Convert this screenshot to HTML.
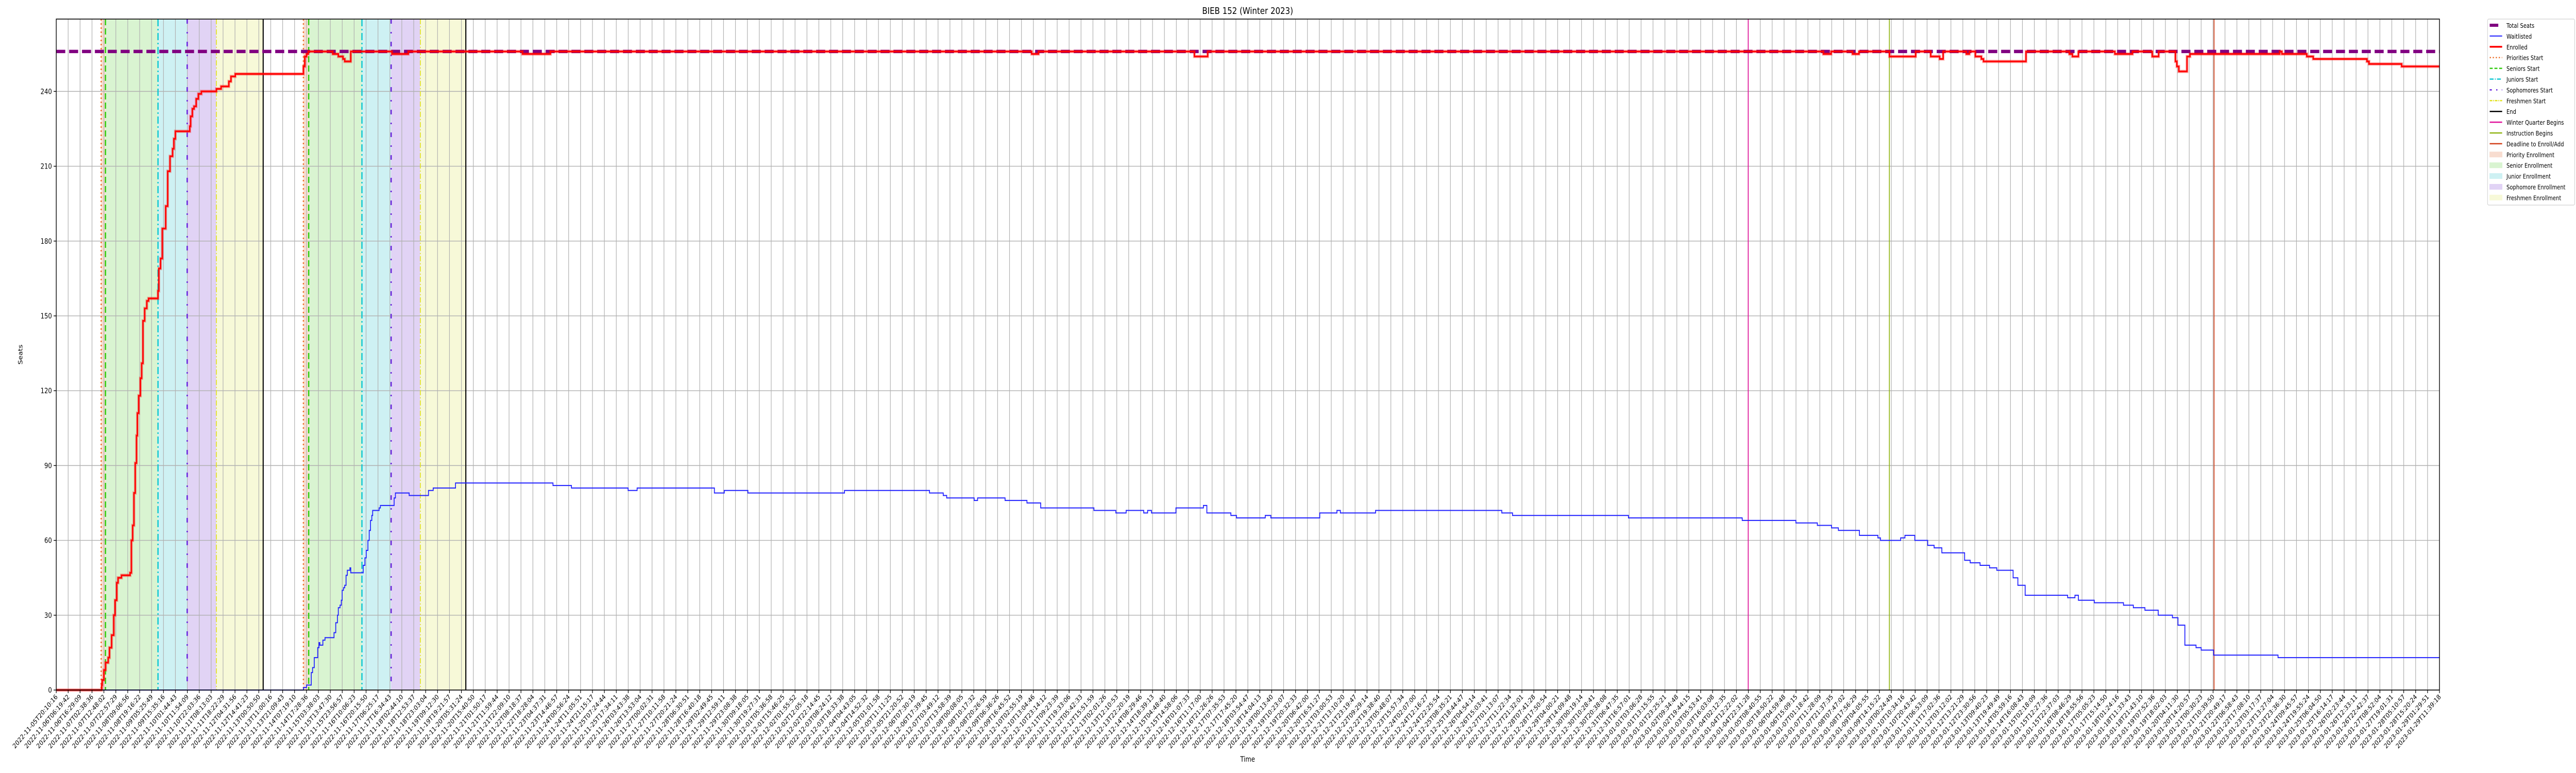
<!DOCTYPE html>
<html><head><meta charset="utf-8"><title>BIEB 152 (Winter 2023)</title>
<style>
html,body{margin:0;padding:0;background:#fff;overflow:hidden;width:100%;height:100%;}
svg{display:block;width:100vw;height:100vh;font-family:"DejaVu Sans","Liberation Sans",sans-serif;}
</style></head>
<body>
<svg id="chart" viewBox="0 0 6000 1500" preserveAspectRatio="none" xmlns="http://www.w3.org/2000/svg">
<rect x="0" y="0" width="6000" height="1500" fill="#fff"/>
<g id="shades"></g>
<g id="grid"></g>
<g id="events"></g>
<g id="series"></g>
<g id="axes"></g>
<text x="2906" y="27" font-size="18" text-anchor="middle">BIEB 152 (Winter 2023)</text>
<text x="2906" y="1478" font-size="14" text-anchor="middle">Time</text>
<text x="0" y="0" font-size="14" text-anchor="middle" transform="translate(52,688) rotate(-90)">Seats</text>
<g id="legend"></g>
</svg>
<script>
// ---- data (hours along the time axis) ----
const totalSeats = 256;
const enrolledT = [0,39.25,39.62,41.10,42.58,44.80,45.92,47.77,49.62,50.73,52.21,53.32,56.28,63.69,64.80,65.91,67.02,68.13,69.24,69.99,71.10,72.58,73.69,74.80,76.28,78.13,79.61,87.76,88.50,89.98,91.46,94.42,96.13,98.13,100.35,101.46,102.76,115.16,115.90,117.38,118.86,120.71,122.57,125.16,138.12,142.19,148.86,150.71,154.41,213.18,214.40,215.88,217.36,238.47,243.28,247.35,248.83,254.02,289.57,303.64,402.13,426.20,841.30,847.22,981.64,993.12,1524.11,1530.78,1549.29,1554.85,1581.14,1603.73,1616.69,1624.46,1627.42,1647.42,1650.01,1655.20,1660.38,1662.23,1698.89,1736.29,1738.88,1744.07,1775.54,1790.72,1807.76,1813.31,1827.76,1829.00,1830.71,1837.75,1840.34,1917.73,1919.58,1941.06,1946.61,1992.90,1994.75,2022.89,2055.5];
const enrolledV = [0,2,4,8,11,13,17,22,30,36,43,45,46,47,60,66,79,91,102,111,118,125,131,148,153,156,157,160,169,173,185,194,208,214,217,221,224,226,230,233,234,237,239,240,241,242,244,246,247,250,254,255,256,255,254,253,252,256,255,256,255,256,255,256,254,256,255,256,255,256,254,256,254,253,256,255,256,254,253,252,256,255,254,256,255,256,254,256,252,250,248,254,255,256,255,254,253,252,251,250,250];
const waitT = [0,213.29,215.88,219.95,221.06,222.54,225.51,226.62,227.36,229.95,231.80,239.58,241.06,242.54,243.28,244.76,245.87,246.61,247.72,248.83,249.95,251.06,253.28,254.02,264.76,266.24,267.35,268.83,269.94,271.05,272.16,272.90,278.46,279.57,291.42,292.53,304.38,321.04,325.11,344.37,428.43,444.35,493.23,501.00,567.65,576.17,596.54,679.85,753.17,765.02,767.98,791.68,794.64,818.34,837.23,849.07,894.99,913.88,922.76,937.94,941.28,944.61,965.72,989.41,992.38,1013.11,1017.93,1042.74,1047.55,1089.76,1104.58,1107.54,1137.90,1246.77,1256.02,1356.00,1454.13,1500.42,1518.93,1531.15,1537.07,1555.22,1571.14,1573.36,1590.77,1594.47,1602.99,1614.09,1619.65,1626.31,1645.94,1650.75,1659.27,1667.42,1673.71,1687.78,1691.86,1698.15,1734.81,1741.10,1744.07,1757.77,1782.95,1791.46,1801.46,1812.94,1825.16,1829.97,1835.90,1845.53,1849.97,1860.71,1916.25,2055.5];
const waitV = [0,1,2,7,9,13,17,19,18,20,21,23,27,30,33,34,36,40,41,42,46,48,49,47,50,53,56,60,64,68,70,72,73,74,77,79,78,80,81,83,82,81,80,81,79,80,79,80,79,78,77,76,77,76,75,73,72,71,72,71,72,71,73,74,71,70,69,70,69,71,72,71,72,71,70,69,68,67,66,65,64,62,61,60,61,62,60,58,57,55,52,51,50,49,48,45,42,38,37,38,36,35,34,33,32,30,29,26,18,17,16,14,13,13];
// event times (hours)
const roundStarts = [[38.77,42.47,87.76,112.94,138.12,178.48],[213.18,217.73,263.65,288.83,314.01,353.26]];
const winterBegins = 1459.31;
const instructionBegins = 1581.06;
const deadlineAdd = 1861.08;
// axis
const yTicks = [0,30,60,90,120,150,180,210,240];
const xStart = "2022-11-05T20:10:16";
const xEnd = "2023-01-29T11:39:18";
const xTickCount = 201;
const xDomainHours = 2055.5;

// ---- scales ----
const L=131,R=5682,T=37,B=1339;
const yMax = 269;
const X = h => L + (h/xDomainHours)*(R-L);
const Y = v => B - (v/yMax)*(B-T);
const NS="http://www.w3.org/2000/svg";
function mk(tag, attrs, parent){const e=document.createElementNS(NS,tag);for(const k in attrs)e.setAttribute(k,attrs[k]);parent.appendChild(e);return e;}

const xTickLabels=[];
for(let i=0;i<xTickCount;i++){
  const ms = Date.parse(xStart+"Z") + (Date.parse(xEnd+"Z")-Date.parse(xStart+"Z"))*i/(xTickCount-1);
  xTickLabels.push(new Date(ms).toISOString().slice(0,19));
}

const shadeColors=["#f8ddd0","#d9f4d1","#cef1f3","#e1d3f5","#f7f9d8"];
const shadeNames=["priority-enrollment","senior-enrollment","junior-enrollment","sophomore-enrollment","freshmen-enrollment"];
const shadesG=document.getElementById('shades');
roundStarts.forEach((r,ri)=>{
  for(let i=0;i<5;i++){
    const el=mk('rect',{x:X(r[i]),y:T,width:X(r[i+1])-X(r[i]),height:B-T,fill:shadeColors[i]},shadesG);
    
    
  }
});

const gridG=document.getElementById('grid');
const axesG=document.getElementById('axes');
for(let i=0;i<xTickCount;i++){
  const x=L+(R-L)*i/(xTickCount-1);
  const g=mk('line',{x1:x,x2:x,y1:T,y2:B,stroke:"#b0b0b0","stroke-width":1.4},gridG);
  
  
  const tk=mk('line',{x1:x,x2:x,y1:B,y2:B+6,stroke:"#000","stroke-width":1.4},axesG);
  
  
  const t=mk('text',{x:0,y:0,"font-size":13,"text-anchor":"end",transform:`translate(${x+4},${B+14}) rotate(-45)`},axesG);
  t.textContent=xTickLabels[i];
  
  
}
yTicks.forEach(v=>{
  const y=Y(v);
  const g=mk('line',{x1:L,x2:R,y1:y,y2:y,stroke:"#b0b0b0","stroke-width":1.4},gridG);
  
  
  const tk=mk('line',{x1:L-6,x2:L,y1:y,y2:y,stroke:"#000","stroke-width":1.4},axesG);
  
  
  const t=mk('text',{x:L-10,y:y+5,"font-size":14,"text-anchor":"end"},axesG);
  t.textContent=String(v);
  
  
});

const evG=document.getElementById('events');
const styles=[
 {c:"#ee7733",w:3,d:"3,5",n:"priorities-start"},
 {c:"#33cc11",w:3,d:"12,6",n:"seniors-start"},
 {c:"#11c8d2",w:3,d:"14,5,3,5",n:"juniors-start"},
 {c:"#6622dd",w:3,d:"9,16,3,16",n:"sophomores-start"},
 {c:"#e2e222",w:2,d:"10,4,2,4",n:"freshmen-start"},
 {c:"#000000",w:2.5,d:"",n:"end"}];
roundStarts.forEach((r,ri)=>{
  r.forEach((h,i)=>{
    const s=styles[i];
    const a={x1:X(h),x2:X(h),y1:T,y2:B,stroke:s.c,"stroke-width":s.w};
    if(s.d)a["stroke-dasharray"]=s.d;
    const el=mk('line',a,evG);
    
    
  });
});
[[winterBegins,"#e0109a","winter-quarter-begins-line"],[instructionBegins,"#90b414","instruction-begins-line"],[deadlineAdd,"#d2401a","deadline-enroll-add-line"]].forEach(a=>{
  const el=mk('line',{x1:X(a[0]),x2:X(a[0]),y1:T,y2:B,stroke:a[1],"stroke-width":2},evG);
  
  
});

function stepPath(ts,vs){
  let d=`M${X(ts[0]).toFixed(2)},${Y(vs[0]).toFixed(2)}`;
  for(let i=1;i<ts.length;i++){
    d+=`H${X(ts[i]).toFixed(2)}V${Y(vs[i]).toFixed(2)}`;
  }
  return d;
}
const sG=document.getElementById('series');
const ts=mk('line',{x1:L,x2:R,y1:Y(totalSeats),y2:Y(totalSeats),stroke:"#800080","stroke-width":6.5,"stroke-dasharray":"21,9"},sG);


const wl=mk('path',{d:stepPath(waitT,waitV),fill:"none",stroke:"#2020ff","stroke-width":2},sG);


const eh=mk('path',{d:stepPath(enrolledT,enrolledV),fill:"none",stroke:"rgba(255,0,0,0.3)","stroke-width":6.5},sG);


const en=mk('path',{d:stepPath(enrolledT,enrolledV),fill:"none",stroke:"#ff0000","stroke-width":3.2},sG);



const fr=mk('rect',{x:L,y:T,width:R-L,height:B-T,fill:"none",stroke:"#000","stroke-width":1.6},axesG);



const lg=document.getElementById('legend');
const box=mk('rect',{x:5794,y:37,width:203,height:361,rx:3,fill:"#fff",stroke:"#d0d0d0","stroke-width":1.2},lg);


const entries=[
 ["Total Seats","line","#800080",6,""],
 ["Waitlisted","line","#2020ff",2,""],
 ["Enrolled","line","#ff0000",3.5,""],
 ["Priorities Start","line","#ee7733",2.5,"3,4"],
 ["Seniors Start","line","#33cc11",2.5,"7,4"],
 ["Juniors Start","line","#11c8d2",2.5,"9,3,2,3"],
 ["Sophomores Start","line","#6622dd",2.5,"5,10,3,10"],
 ["Freshmen Start","line","#e2e222",2.5,"6,2,2,2"],
 ["End","line","#000",2.5,""],
 ["Winter Quarter Begins","line","#e0109a",2.5,""],
 ["Instruction Begins","line","#90b414",2.5,""],
 ["Deadline to Enroll/Add","line","#d2401a",2.5,""],
 ["Priority Enrollment","patch","#f8ddd0"],
 ["Senior Enrollment","patch","#d9f4d1"],
 ["Junior Enrollment","patch","#cef1f3"],
 ["Sophomore Enrollment","patch","#e1d3f5"],
 ["Freshmen Enrollment","patch","#f7f9d8"]];
entries.forEach((e,i)=>{
  const cy=49+i*20.9;
  const g=mk('g',{},lg);
  
  
  if(e[1]==="line"){
    const a={x1:5799,x2:5828,y1:cy,y2:cy,stroke:e[2],"stroke-width":e[3]};
    if(e[4])a["stroke-dasharray"]=e[4];
    if(i===0){a.x2=5819;}
    mk('line',a,g);
  } else {
    mk('rect',{x:5799,y:cy-5,width:29,height:10,fill:e[2],stroke:e[2]},g);
  }
  const t=mk('text',{x:5838,y:cy+5,"font-size":12},g);
  t.textContent=e[0];
});
</script>
</body></html>
